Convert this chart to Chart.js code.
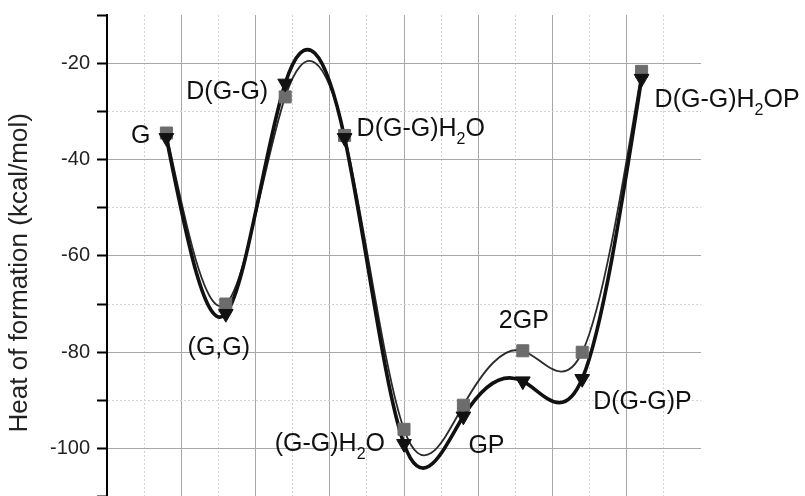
<!DOCTYPE html>
<html>
<head>
<meta charset="utf-8">
<script src="https://cdn.jsdelivr.net/npm/chart.js@4.4.1/dist/chart.umd.min.js"></script>
<style>
  html, body { margin: 0; padding: 0; background: #fff; }
  #wrap { width: 805px; height: 496px; overflow: hidden; }
</style>
</head>
<body>
<div id="wrap"><canvas id="chart" width="805" height="540"></canvas></div>
<script>
// species along the path, in order
const species = ['G', '(G,G)', 'D(G-G)', 'D(G-G)H₂O', '(G-G)H₂O', 'GP', '2GP', 'D(G-G)P', 'D(G-G)H₂OP'];
const positions = [1, 2, 3, 4, 5, 6, 7, 8, 9];
const heatSquares = [-34.5, -70, -27, -35, -96, -91, -79.7, -80, -21.7];
const heatTriangles = [-35.5, -72, -24.2, -35.5, -99, -93.3, -86, -85.5, -23.2];
const yTickLabels = [-20, -40, -60, -80, -100];

// where each label sits, relative to the triangle point (px)
const labelOffsets = [
    { dx: -16, dy: 5, align: 'right' },
    { dx: -7, dy: 41, align: 'center' },
    { dx: -17, dy: 16, align: 'right' },
    { dx: 12, dy: -2, align: 'left' },
    { dx: -19, dy: 7.5, align: 'right' },
    { dx: 5, dy: 37, align: 'left' },
    { dx: 1, dy: -53, align: 'center' },
    { dx: 11, dy: 30, align: 'left' },
    { dx: 13, dy: 28, align: 'left' }
];

const FONT = '"Liberation Sans", Arial, Helvetica, sans-serif';

function toPoints(values) {
    return positions.map((x, i) => ({ x: x, y: values[i] }));
}

// natural cubic spline through the rendered points
function splinePath(ctx, pts) {
    const n = pts.length;
    const h = [];
    for (let i = 0; i < n - 1; i++) h.push(pts[i + 1].x - pts[i].x);
    const M = new Array(n).fill(0);
    const m = n - 2;
    if (m > 0) {
        const a = [], b = [], c = [], d = [];
        for (let i = 1; i < n - 1; i++) {
            a.push(h[i - 1]);
            b.push(2 * (h[i - 1] + h[i]));
            c.push(h[i]);
            d.push(6 * ((pts[i + 1].y - pts[i].y) / h[i] - (pts[i].y - pts[i - 1].y) / h[i - 1]));
        }
        for (let i = 1; i < m; i++) {
            const w = a[i] / b[i - 1];
            b[i] -= w * c[i - 1];
            d[i] -= w * d[i - 1];
        }
        const sol = new Array(m);
        sol[m - 1] = d[m - 1] / b[m - 1];
        for (let i = m - 2; i >= 0; i--) sol[i] = (d[i] - c[i] * sol[i + 1]) / b[i];
        for (let i = 0; i < m; i++) M[i + 1] = sol[i];
    }
    ctx.beginPath();
    ctx.moveTo(pts[0].x, pts[0].y);
    for (let i = 0; i < n - 1; i++) {
        const hi = h[i];
        const s = (pts[i + 1].y - pts[i].y) / hi;
        const d0 = s - hi * (2 * M[i] + M[i + 1]) / 6;
        const d1 = s + hi * (M[i] + 2 * M[i + 1]) / 6;
        ctx.bezierCurveTo(
            pts[i].x + hi / 3, pts[i].y + d0 * hi / 3,
            pts[i + 1].x - hi / 3, pts[i + 1].y - d1 * hi / 3,
            pts[i + 1].x, pts[i + 1].y
        );
    }
}

const splineLines = {
    id: 'splineLines',
    beforeDatasetsDraw(chart) {
        const ctx = chart.ctx;
        const order = [1, 0]; // grey first, black on top
        order.forEach(idx => {
            const ds = chart.data.datasets[idx];
            const meta = chart.getDatasetMeta(idx);
            const pts = meta.data.map(p => ({ x: p.x, y: p.y }));
            ctx.save();
            ctx.strokeStyle = ds.splineColor;
            ctx.lineWidth = ds.splineWidth;
            ctx.lineJoin = 'round';
            ctx.lineCap = 'round';
            splinePath(ctx, pts);
            ctx.stroke();
            ctx.restore();
        });
    }
};

function drawLabel(ctx, text, x, y, align) {
    const big = '25px ' + FONT;
    const small = '16px ' + FONT;
    const parts = text.split('₂');
    ctx.font = big;
    const widths = parts.map(p => ctx.measureText(p).width);
    ctx.font = small;
    const subW = ctx.measureText('2').width;
    const total = widths.reduce((s, w) => s + w, 0) + subW * (parts.length - 1);
    let cx = align === 'right' ? x - total : align === 'center' ? x - total / 2 : x;
    parts.forEach((p, i) => {
        ctx.font = big;
        ctx.fillText(p, cx, y);
        cx += widths[i];
        if (i < parts.length - 1) {
            ctx.font = small;
            ctx.fillText('2', cx, y + 8);
            cx += subW;
        }
    });
}

const speciesLabels = {
    id: 'speciesLabels',
    afterDatasetsDraw(chart) {
        const ctx = chart.ctx;
        const meta = chart.getDatasetMeta(0);
        ctx.save();
        ctx.fillStyle = '#111';
        ctx.textAlign = 'left';
        ctx.textBaseline = 'alphabetic';
        species.forEach((name, i) => {
            const p = meta.data[i];
            const off = labelOffsets[i];
            drawLabel(ctx, name, p.x + off.dx, p.y + off.dy, off.align);
        });
        ctx.restore();
    }
};

function isMultiple(v, step) {
    const r = v / step;
    return Math.abs(r - Math.round(r)) < 1e-6;
}

const config = {
    type: 'line',
    data: {
        datasets: [
            {
                label: 'triangles',
                data: toPoints(heatTriangles),
                showLine: false,
                pointStyle: 'triangle',
                rotation: 180,
                pointRadius: 8.5,
                pointBackgroundColor: '#111',
                pointBorderColor: '#111',
                pointBorderWidth: 1,
                splineColor: '#111',
                splineWidth: 3.6,
                order: 1
            },
            {
                label: 'squares',
                data: toPoints(heatSquares),
                showLine: false,
                pointStyle: 'rect',
                pointRadius: 8.5,
                pointBackgroundColor: '#6c6c6c',
                pointBorderColor: '#6c6c6c',
                pointBorderWidth: 1,
                splineColor: '#2a2a2a',
                splineWidth: 1.8,
                order: 2
            }
        ]
    },
    options: {
        responsive: false,
        animation: false,
        layout: {
            padding: { top: 15, right: 104, bottom: 1, left: 0 }
        },
        scales: {
            x: {
                type: 'linear',
                min: 0,
                max: 10,
                ticks: { display: false, stepSize: 0.625 },
                border: {
                    display: false,
                    dash: ctx => (ctx.tick && !isMultiple(ctx.tick.value, 1.25)) ? [2, 2] : []
                },
                grid: {
                    drawTicks: false,
                    lineWidth: 1,
                    color: ctx => {
                        if (!ctx.tick) return 'rgba(0,0,0,0)';
                        const v = ctx.tick.value;
                        if (v < 0.01 || v > 9.99) return 'rgba(0,0,0,0)';
                        return isMultiple(v, 1.25) ? '#a8a8a8' : '#d2d2d2';
                    }
                },
                afterFit: scale => {
                    scale.height = 0;
                    scale.paddingLeft = 0;
                    scale.paddingRight = 0;
                }
            },
            y: {
                min: -117,
                max: -10,
                ticks: {
                    stepSize: 10,
                    padding: 7,
                    color: '#222',
                    font: { family: FONT, size: 20 },
                    callback: value => yTickLabels.includes(value) ? String(value) : ''
                },
                border: {
                    display: true,
                    color: '#000',
                    width: 2,
                    dash: ctx => (ctx.tick && !isMultiple(ctx.tick.value, 20)) ? [2, 2] : []
                },
                grid: {
                    lineWidth: 1,
                    tickLength: 10,
                    tickWidth: 2,
                    tickColor: '#000',
                    color: ctx => {
                        if (!ctx.tick) return 'rgba(0,0,0,0)';
                        const v = ctx.tick.value;
                        if (v > -11 || v < -116) return 'rgba(0,0,0,0)';
                        return isMultiple(v, 20) ? '#a8a8a8' : '#d2d2d2';
                    }
                },
                title: {
                    display: true,
                    text: 'Heat of formation (kcal/mol)',
                    color: '#222',
                    font: { family: FONT, size: 26 },
                    padding: { top: 4, bottom: 0 }
                },
                afterFit: scale => {
                    scale.width = 107;
                    scale.paddingTop = 0;
                    scale.paddingBottom = 0;
                }
            }
        },
        plugins: {
            legend: { display: false },
            tooltip: { enabled: false }
        }
    },
    plugins: [splineLines, speciesLabels]
};

const ctx = document.getElementById('chart').getContext('2d');
const chart = new Chart(ctx, config);
</script>
</body>
</html>
